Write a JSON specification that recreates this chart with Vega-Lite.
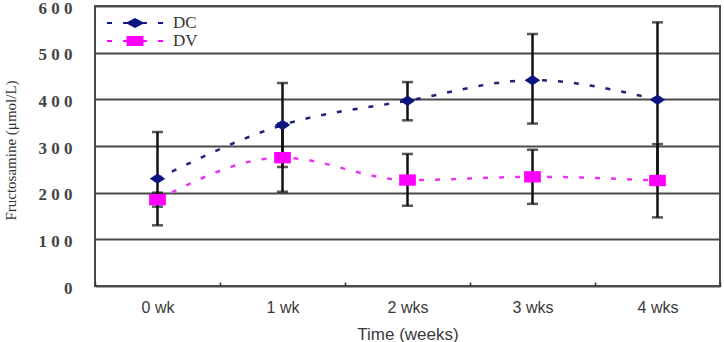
{
  "$schema": "https://vega.github.io/schema/vega-lite/v6.json",
  "width": 625,
  "height": 280,
  "autosize": "none",
  "padding": {"left": 95, "top": 6, "right": 4, "bottom": 56},
  "background": "white",
  "config": {
    "view": {"stroke": "#4a4a4a", "strokeWidth": 2},
    "axis": {"domain": false}
  },
  "data": {
    "values": [
      {"week": "0 wk", "group": "DC", "mean": 230, "lower": 130, "upper": 330},
      {"week": "1 wk", "group": "DC", "mean": 345, "lower": 255, "upper": 435},
      {"week": "2 wks", "group": "DC", "mean": 397, "lower": 355, "upper": 437},
      {"week": "3 wks", "group": "DC", "mean": 441, "lower": 348, "upper": 540},
      {"week": "4 wks", "group": "DC", "mean": 399, "lower": 233, "upper": 565},
      {"week": "0 wk", "group": "DV", "mean": 185, "lower": 170, "upper": 200},
      {"week": "1 wk", "group": "DV", "mean": 275, "lower": 202, "upper": 348},
      {"week": "2 wks", "group": "DV", "mean": 227, "lower": 172, "upper": 283},
      {"week": "3 wks", "group": "DV", "mean": 234, "lower": 176, "upper": 292},
      {"week": "4 wks", "group": "DV", "mean": 226, "lower": 147, "upper": 304}
    ]
  },
  "encoding": {
    "x": {
      "field": "week",
      "type": "nominal",
      "sort": ["0 wk", "1 wk", "2 wks", "3 wks", "4 wks"],
      "scale": {"paddingInner": 0, "paddingOuter": 0},
      "axis": {
        "title": "Time (weeks)",
        "labelAngle": 0,
        "labelFont": "Liberation Sans",
        "labelFontSize": 16,
        "labelColor": "#3a3a3a",
        "labelPadding": 17,
        "ticks": true,
        "tickBand": "extent",
        "tickSize": -4,
        "tickColor": "#333",
        "tickWidth": 1.5,
        "titleFont": "Liberation Sans",
        "titleFontSize": 17,
        "titleFontWeight": "normal",
        "titleColor": "#3a3a3a",
        "titleBaseline": "alphabetic",
        "titleY": 53
      }
    }
  },
  "layer": [
    {
      "mark": {"type": "rule", "color": "#111", "strokeWidth": 2.5},
      "encoding": {
        "y": {"field": "lower", "type": "quantitative"},
        "y2": {"field": "upper"}
      }
    },
    {
      "mark": {"type": "tick", "color": "#111", "size": 11, "thickness": 2.5, "orient": "horizontal"},
      "encoding": {"y": {"field": "lower", "type": "quantitative"}}
    },
    {
      "mark": {"type": "tick", "color": "#111", "size": 11, "thickness": 2.5, "orient": "horizontal"},
      "encoding": {"y": {"field": "upper", "type": "quantitative"}}
    },
    {
      "mark": {"type": "line", "strokeWidth": 2.5, "strokeDash": [5, 11], "interpolate": "monotone"},
      "encoding": {
        "y": {"field": "mean", "type": "quantitative"},
        "color": {
          "field": "group",
          "type": "nominal",
          "scale": {"domain": ["DC", "DV"], "range": ["#1d2478", "#ee33ee"]},
          "legend": {
            "orient": "none",
            "legendX": 31.5,
            "legendY": 8.5,
            "title": null,
            "padding": 0,
            "rowPadding": 0,
            "symbolSize": 289,
            "symbolStrokeWidth": 0,
            "labelOffset": 29.5,
            "labelFont": "Liberation Serif",
            "labelFontSize": 17,
            "labelColor": "#333",
            "encode": {
              "symbols": {
                "update": {
                  "shape": {"signal": "datum.value === 'DC' ? 'M-3.3,-0.12H-2.7V0.12H-3.3Z M-1.4,-0.12H-0.9L0,-0.6L0.9,-0.12H1.4V0.12H0.9L0,0.6L-0.9,0.12H-1.4Z M2.7,-0.12H3.3V0.12H2.7Z' : 'M-3.3,-0.12H-2.7V0.12H-3.3Z M-1.4,-0.12H-1V-0.6H1V-0.12H1.4V0.12H1V0.6H-1V0.12H-1.4Z M2.7,-0.12H3.3V0.12H2.7Z'"},
                  "fill": {"signal": "datum.value === 'DC' ? '#0d1580' : '#ff00ff'"},
                  "fillOpacity": {"value": 1},
                  "strokeWidth": {"value": 0}
                }
              }
            }
          }
        }
      }
    },
    {
      "mark": {"type": "point", "filled": true, "opacity": 1},
      "encoding": {
        "y": {
          "field": "mean",
          "type": "quantitative",
          "scale": {"domain": [0, 600], "nice": false},
          "axis": {
            "values": [0, 100, 200, 300, 400, 500, 600],
            "title": "Fructosamine (μmol/L)",
            "titleFont": "Liberation Serif",
            "titleFontSize": 15,
            "titleFontWeight": "normal",
            "titleColor": "#333",
            "titleAngle": -90,
            "titleX": -85,
            "titleY": 144,
            "titleAlign": "center",
            "titleBaseline": "middle",
            "ticks": false,
            "labelPadding": 23,
            "labelOffset": 2,
            "labelFont": "Liberation Serif",
            "labelFontSize": 17,
            "labelFontWeight": "bold",
            "labelColor": "#444",
            "labelExpr": "join(split(datum.label, ''), ' ')",
            "grid": true,
            "gridColor": "#4a4a4a",
            "gridWidth": 1.8
          }
        },
        "color": {"field": "group", "type": "nominal", "scale": {"domain": ["DC", "DV"], "range": ["#0d1580", "#ff00ff"]}},
        "shape": {
          "field": "group",
          "type": "nominal",
          "scale": {"domain": ["DC", "DV"], "range": ["M-1,0L0,-0.67L1,0L0,0.67Z", "M-1,-0.68H1V0.68H-1Z"]},
          "legend": null
        },
        "size": {
          "field": "group",
          "type": "nominal",
          "scale": {"domain": ["DC", "DV"], "range": [240, 280]},
          "legend": null
        }
      }
    }
  ],
  "resolve": {"scale": {"color": "independent"}}
}
